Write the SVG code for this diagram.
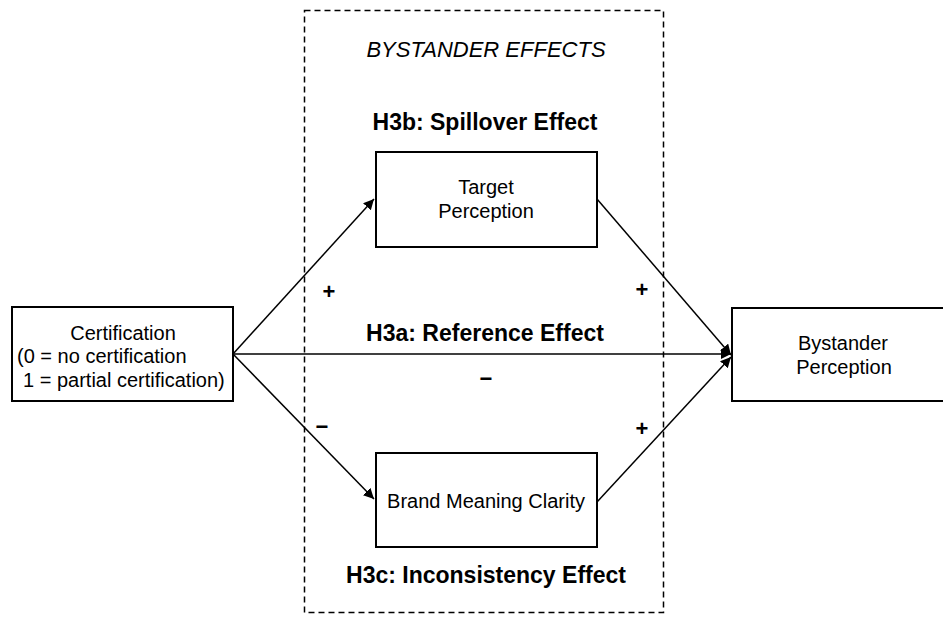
<svg xmlns="http://www.w3.org/2000/svg" width="943" height="617" viewBox="0 0 943 617">
<style>
.box{fill:#fff;stroke:#000;stroke-width:2}
.t{font-family:"Liberation Sans",Arial,sans-serif;font-size:20px;fill:#000}
.c{text-anchor:middle}
.b{font-weight:bold;font-size:23px}
.s{font-weight:bold;font-size:22px}
.ln{stroke:#000;stroke-width:1.5;fill:none}
</style>
<defs>
<marker id="ah" viewBox="0 0 10 10" refX="10" refY="5" markerWidth="7" markerHeight="7" markerUnits="strokeWidth" orient="auto">
<path d="M0,0 L10,5 L0,10 z" fill="#000"/>
</marker>
</defs>
<rect x="304.5" y="10.5" width="359" height="602" fill="none" stroke="#000" stroke-width="1.5" stroke-dasharray="6,4"/>
<text class="t c" x="486" y="57" style="font-style:italic;font-size:22px">BYSTANDER EFFECTS</text>
<text class="t c b" x="485" y="130">H3b: Spillover Effect</text>
<text class="t c b" x="485" y="341">H3a: Reference Effect</text>
<text class="t c b" x="486" y="583">H3c: Inconsistency Effect</text>
<g id="connectors">
<line class="ln" x1="233" y1="354" x2="374" y2="199" marker-end="url(#ah)"/>
<line class="ln" x1="233" y1="354" x2="374" y2="499" marker-end="url(#ah)"/>
<line class="ln" x1="233" y1="354" x2="731" y2="354" marker-end="url(#ah)"/>
<line class="ln" x1="597" y1="199" x2="731" y2="355" marker-end="url(#ah)"/>
<line class="ln" x1="597" y1="502" x2="731" y2="357" marker-end="url(#ah)"/>
</g>
<g id="signs">
<text class="t c s" x="329" y="299">+</text>
<text class="t c s" x="642" y="297">+</text>
<text class="t c s" x="486" y="386">−</text>
<text class="t c s" x="322" y="434">−</text>
<text class="t c s" x="642" y="436">+</text>
</g>
<g id="certification">
<rect class="box" x="12" y="307" width="221" height="94"/>
<text class="t c" x="123" y="340">Certification</text>
<text class="t" x="17" y="363">(0 = no certification</text>
<text class="t" x="23" y="387">1 = partial certification)</text>
</g>
<g id="target">
<rect class="box" x="376" y="152" width="221" height="95"/>
<text class="t c" x="486" y="194">Target</text>
<text class="t c" x="486" y="218">Perception</text>
</g>
<g id="brand">
<rect class="box" x="376" y="453" width="221" height="94"/>
<text class="t c" x="486" y="508">Brand Meaning Clarity</text>
</g>
<g id="bystander">
<rect class="box" x="732" y="308" width="222" height="93"/>
<text class="t c" x="843" y="350">Bystander</text>
<text class="t c" x="844" y="374">Perception</text>
</g>
</svg>
